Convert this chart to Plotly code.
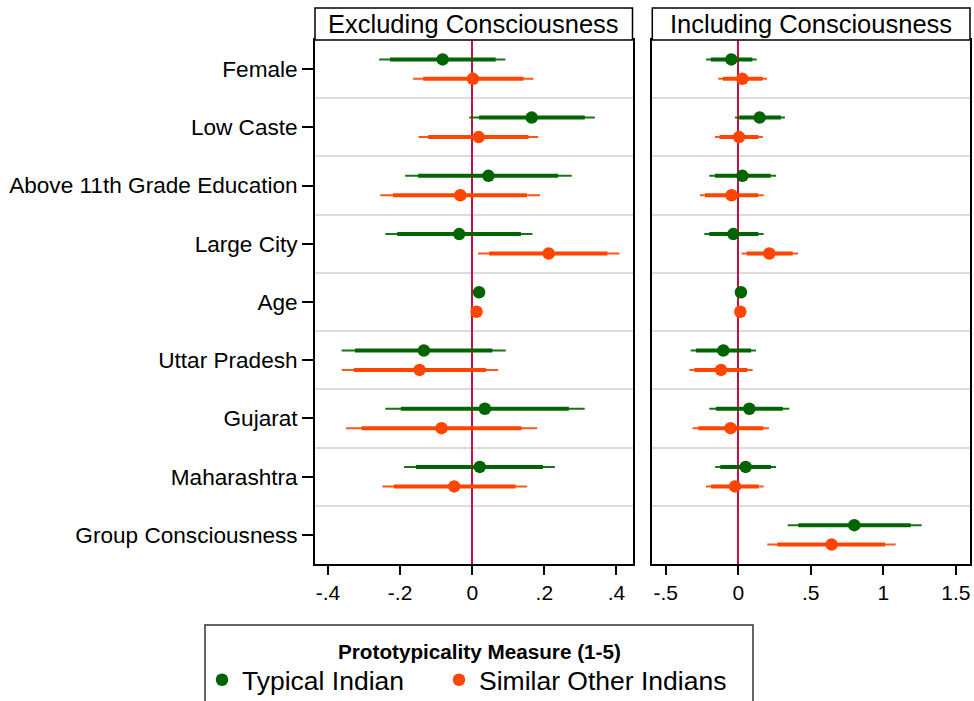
import plotly.graph_objects as go

categories = ["Female", "Low Caste", "Above 11th Grade Education", "Large City", "Age",
              "Uttar Pradesh", "Gujarat", "Maharashtra", "Group Consciousness"]

series_names = ["Typical Indian", "Similar Other Indians"]
series_colors = ["#006400", "#FF4500"]

# ---- Panel 1: Excluding Consciousness (no Group Consciousness term) ----
excl_typ_est = [-0.082, 0.165, 0.045, -0.036, 0.019, -0.134, 0.035, 0.021, None]
excl_typ_lo95 = [-0.258, -0.008, -0.186, -0.241, 0.016, -0.362, -0.241, -0.189, None]
excl_typ_hi95 = [0.092, 0.340, 0.276, 0.167, 0.022, 0.093, 0.312, 0.229, None]
excl_typ_lo90 = [-0.228, 0.019, -0.150, -0.208, 0.017, -0.325, -0.198, -0.156, None]
excl_typ_hi90 = [0.065, 0.312, 0.238, 0.135, 0.021, 0.056, 0.268, 0.196, None]

excl_sim_est = [0.002, 0.018, -0.033, 0.212, 0.012, -0.146, -0.085, -0.050, None]
excl_sim_lo95 = [-0.164, -0.149, -0.255, 0.016, 0.009, -0.362, -0.350, -0.249, None]
excl_sim_hi95 = [0.170, 0.183, 0.188, 0.408, 0.015, 0.072, 0.180, 0.152, None]
excl_sim_lo90 = [-0.136, -0.122, -0.220, 0.047, 0.010, -0.328, -0.307, -0.217, None]
excl_sim_hi90 = [0.142, 0.156, 0.152, 0.375, 0.014, 0.038, 0.137, 0.120, None]

# ---- Panel 2: Including Consciousness ----
incl_typ_est = [-0.048, 0.147, 0.028, -0.034, 0.018, -0.103, 0.076, 0.051, 0.800]
incl_typ_lo95 = [-0.223, -0.023, -0.200, -0.234, 0.015, -0.328, -0.200, -0.159, 0.341]
incl_typ_hi95 = [0.127, 0.322, 0.260, 0.175, 0.021, 0.122, 0.352, 0.260, 1.265]
incl_typ_lo90 = [-0.190, 0.007, -0.161, -0.200, 0.016, -0.292, -0.154, -0.124, 0.414]
incl_typ_hi90 = [0.097, 0.294, 0.223, 0.138, 0.020, 0.088, 0.306, 0.225, 1.189]

incl_sim_est = [0.028, 0.005, -0.046, 0.214, 0.014, -0.119, -0.053, -0.023, 0.644]
incl_sim_lo95 = [-0.138, -0.161, -0.264, 0.023, 0.011, -0.338, -0.315, -0.223, 0.200]
incl_sim_hi95 = [0.198, 0.170, 0.175, 0.412, 0.017, 0.099, 0.212, 0.175, 1.085]
incl_sim_lo90 = [-0.106, -0.129, -0.230, 0.058, 0.012, -0.303, -0.276, -0.188, 0.269]
incl_sim_hi90 = [0.168, 0.140, 0.138, 0.375, 0.016, 0.062, 0.172, 0.141, 1.012]

panel_titles = ["Excluding Consciousness", "Including Consciousness"]
legend_title = "Prototypicality Measure (1-5)"

x1_tickvals = [-0.4, -0.2, 0, 0.2, 0.4]
x1_ticktext = ["-.4", "-.2", "0", ".2", ".4"]
x2_tickvals = [-0.5, 0, 0.5, 1, 1.5]
x2_ticktext = ["-.5", "0", ".5", "1", "1.5"]

FONT = "Liberation Sans, Arial, Helvetica, sans-serif"
W, H = 974, 701

panels = [
    [(excl_typ_est, excl_typ_lo95, excl_typ_hi95, excl_typ_lo90, excl_typ_hi90),
     (excl_sim_est, excl_sim_lo95, excl_sim_hi95, excl_sim_lo90, excl_sim_hi90)],
    [(incl_typ_est, incl_typ_lo95, incl_typ_hi95, incl_typ_lo90, incl_typ_hi90),
     (incl_sim_est, incl_sim_lo95, incl_sim_hi95, incl_sim_lo90, incl_sim_hi90)],
]
offsets = [-0.167, 0.167]
legend_ids = ["legend", "legend2"]

fig = go.Figure()


def segs(lo, hi, ypos):
    xs, ys = [], []
    for a, b, yy in zip(lo, hi, ypos):
        if a is None or b is None:
            continue
        xs += [a, b, None]
        ys += [yy, yy, None]
    return xs, ys


for p, panel in enumerate(panels):
    xa = "x" if p == 0 else "x2"
    ya = "y" if p == 0 else "y2"
    for s, (est, lo95, hi95, lo90, hi90) in enumerate(panel):
        ypos = [i + offsets[s] for i in range(len(categories))]
        col = series_colors[s]
        xs, ys = segs(lo95, hi95, ypos)
        fig.add_trace(go.Scatter(x=xs, y=ys, mode="lines", line=dict(color=col, width=2),
                                 opacity=0.9, showlegend=False, hoverinfo="skip", xaxis=xa, yaxis=ya))
        xs, ys = segs(lo90, hi90, ypos)
        fig.add_trace(go.Scatter(x=xs, y=ys, mode="lines", line=dict(color=col, width=4),
                                 showlegend=False, hoverinfo="skip", xaxis=xa, yaxis=ya))
        px = [e for e in est if e is not None]
        py = [yy for e, yy in zip(est, ypos) if e is not None]
        fig.add_trace(go.Scatter(x=px, y=py, mode="markers",
                                 marker=dict(color=col, size=12.5),
                                 name=series_names[s], showlegend=(p == 0),
                                 legend=legend_ids[s], xaxis=xa, yaxis=ya))

separators = [i + 0.5 for i in range(len(categories) - 1)]

x1_dom = [315 / W, 632.5 / W]
x2_dom = [652.3 / W, 970 / W]
y_dom = [1 - 564 / H, 1 - 40 / H]

yaxis_common = dict(
    domain=y_dom, range=[len(categories) - 0.5, -0.5], showgrid=False, zeroline=False,
    showline=True, linecolor="black", linewidth=1.7, mirror=True,
    minor=dict(tickmode="array", tickvals=separators, showgrid=True,
               gridcolor="#dcdcdc", gridwidth=2, ticks=""),
)

xaxis_common = dict(
    ticks="outside", ticklen=9, tickwidth=1.5, tickcolor="black",
    tickfont=dict(size=21), showgrid=False,
    zeroline=True, zerolinecolor="#CC1040", zerolinewidth=2,
    showline=True, linecolor="black", linewidth=1.7, mirror=True,
)

legend_common = dict(
    orientation="h", xanchor="left", y=1 - 680 / H, yanchor="middle",
    borderwidth=0, bgcolor="rgba(0,0,0,0)", font=dict(size=26.5, family=FONT),
)

fig.update_layout(
    width=W, height=H, margin=dict(l=0, r=0, t=0, b=0, autoexpand=False),
    paper_bgcolor="white", plot_bgcolor="white",
    font=dict(family=FONT, color="black"),
    xaxis=dict(**xaxis_common, domain=x1_dom, range=[-0.436, 0.4445],
               tickvals=x1_tickvals, ticktext=x1_ticktext, anchor="y"),
    xaxis2=dict(**xaxis_common, domain=x2_dom, range=[-0.593, 1.598],
                tickvals=x2_tickvals, ticktext=x2_ticktext, anchor="y2"),
    yaxis=dict(**yaxis_common, tickvals=list(range(len(categories))), ticktext=categories,
               ticks="outside", ticklen=11, tickwidth=1.5, tickcolor="black",
               tickfont=dict(size=22.6), anchor="x"),
    yaxis2=dict(**yaxis_common, showticklabels=False, ticks="", anchor="x2", matches="y"),
    legend=dict(**legend_common, x=202 / W),
    legend2=dict(**legend_common, x=439 / W),
)

# legend frame and title
fig.add_shape(type="rect", xref="paper", yref="paper", x0=205 / W, x1=753 / W,
              y0=-0.05, y1=1 - 625 / H, line=dict(color="#333333", width=1.5),
              fillcolor="rgba(0,0,0,0)", layer="below")
fig.add_annotation(xref="paper", yref="paper", x=479 / W, y=1 - 651 / H,
                   text="<b>" + legend_title + "</b>", showarrow=False,
                   xanchor="center", yanchor="middle", font=dict(size=20.7, family=FONT))

for dom, title in zip([x1_dom, x2_dom], panel_titles):
    fig.add_shape(type="rect", xref="paper", yref="paper", x0=dom[0], x1=dom[1],
                  y0=1 - 40 / H, y1=1 - 8 / H, line=dict(color="black", width=1.5),
                  fillcolor="white")
    fig.add_annotation(xref="paper", yref="paper", x=(dom[0] + dom[1]) / 2, y=1 - 24.5 / H,
                       text=title, showarrow=False, xanchor="center", yanchor="middle",
                       font=dict(size=25.5, family=FONT))

fig.write_html("out.html")
